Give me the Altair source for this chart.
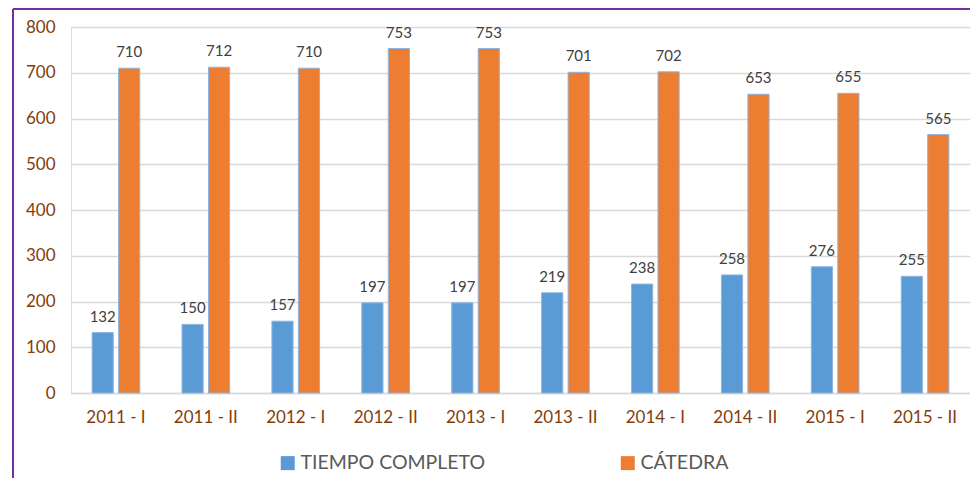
import altair as alt
import pandas as pd

periods = ["2011 - I", "2011 - II", "2012 - I", "2012 - II", "2013 - I",
           "2013 - II", "2014 - I", "2014 - II", "2015 -  I", "2015 - II"]
tiempo_completo = [132, 150, 157, 197, 197, 219, 238, 258, 276, 255]
catedra = [710, 712, 710, 753, 753, 701, 702, 653, 655, 565]
series_names = ["TIEMPO COMPLETO", "CÁTEDRA"]
series_colors = ["#5B9BD5", "#ED7D31"]

rows = []
for i, p in enumerate(periods):
    rows.append({"periodo": p, "serie": series_names[0], "valor": tiempo_completo[i]})
    rows.append({"periodo": p, "serie": series_names[1], "valor": catedra[i]})
df = pd.DataFrame(rows)

FONT = "Lato"

x_enc = alt.X("periodo:N", sort=periods, title=None,
              scale=alt.Scale(paddingInner=0.47, paddingOuter=0.235),
              axis=alt.Axis(labelAngle=0, labelColor="#843C0C", labelFontSize=17,
                            labelFont=FONT, labelFontWeight="normal", labelPadding=16,
                            ticks=False, domainColor="#D9D9D9", domainWidth=1.5))
xoff = alt.XOffset("serie:N", sort=series_names,
                   scale=alt.Scale(paddingInner=0.2, paddingOuter=0))
y_enc = alt.Y("valor:Q", title=None,
              scale=alt.Scale(domain=[0, 800], nice=False),
              axis=alt.Axis(values=[0, 100, 200, 300, 400, 500, 600, 700, 800],
                            labelColor="#843C0C", labelFontSize=17, labelFont=FONT,
                            labelPadding=16, ticks=False, domain=False,
                            gridColor="#D9D9D9", gridWidth=1.3))
color_enc = alt.Color("serie:N", sort=series_names,
                      scale=alt.Scale(domain=series_names, range=series_colors),
                      legend=alt.Legend(title=None, orient="none", legendX=207, legendY=426,
                                        direction="horizontal", symbolType="square",
                                        symbolSize=196, symbolStrokeWidth=0,
                                        labelFontSize=19.5, labelFont=FONT, labelColor="#595959",
                                        labelLimit=400, columnPadding=132, labelOffset=3))

base = alt.Chart(df)

bars = base.mark_bar(stroke="#8FB4E0", strokeWidth=1).encode(
    x=x_enc, xOffset=xoff, y=y_enc, color=color_enc)

labels = base.mark_text(baseline="alphabetic", dy=-11, fontSize=15, font=FONT,
                        color="#404040").encode(
    x=alt.X("periodo:N", sort=periods), xOffset=xoff, y="valor:Q", text="valor:Q")

border_left = alt.Chart(pd.DataFrame({"k": [0]})).mark_rule(
    color="#7030A0", strokeWidth=2).encode(
    x=alt.value(-58), y=alt.value(-18), y2=alt.value(470))
border_top = alt.Chart(pd.DataFrame({"k": [0]})).mark_rule(
    color="#7030A0", strokeWidth=2).encode(
    x=alt.value(-58), x2=alt.value(905), y=alt.value(-18))

chart = alt.layer(bars, labels, border_left, border_top).properties(
    width=899, height=366,
    autosize=alt.AutoSizeParams(type="none"),
    padding={"left": 63, "top": 19, "right": 0, "bottom": 85},
).configure_view(stroke=None).configure(background="white")

chart.save("out.html", embed_options={"renderer": "svg", "actions": False})
